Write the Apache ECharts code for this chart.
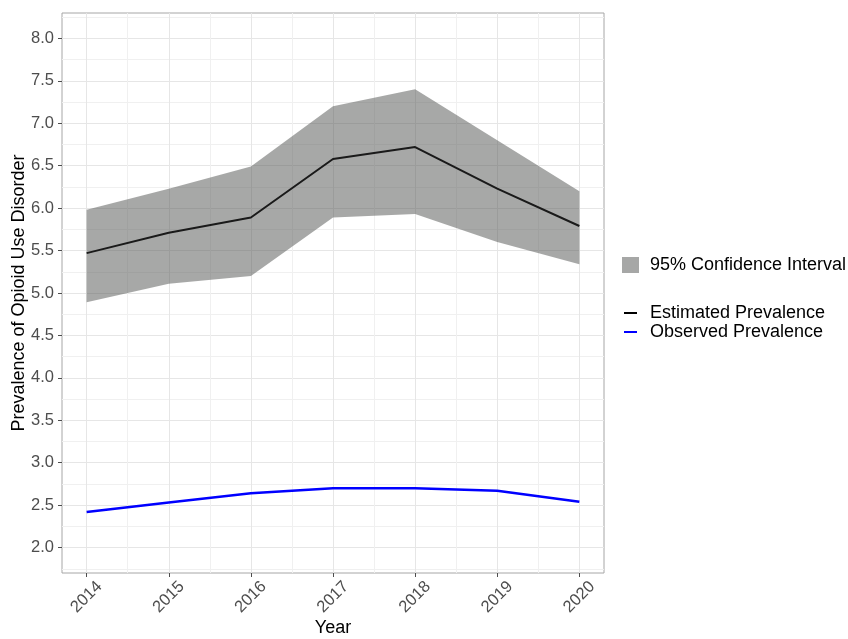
<!DOCTYPE html>
<html>
<head>
<meta charset="utf-8">
<script src="https://cdn.jsdelivr.net/npm/echarts@6/dist/echarts.min.js"></script>
<style>html,body{margin:0;padding:0;background:#fff}#c{width:848px;height:639px}</style>
</head>
<body>
<div id="c"></div>
<script>
const years = [2014, 2015, 2016, 2017, 2018, 2019, 2020];
const estimated = [5.47, 5.71, 5.89, 6.58, 6.72, 6.23, 5.79];
const ciUpper = [5.98, 6.23, 6.49, 7.20, 7.40, 6.80, 6.20];
const ciLower = [4.89, 5.11, 5.20, 5.89, 5.93, 5.60, 5.34];
const observed = [2.42, 2.53, 2.64, 2.70, 2.70, 2.67, 2.54];
const xMajorTicks = [2014, 2015, 2016, 2017, 2018, 2019, 2020];
const xMinorTicks = [2014.5, 2015.5, 2016.5, 2017.5, 2018.5, 2019.5];
const yMajorTicks = [2.0, 2.5, 3.0, 3.5, 4.0, 4.5, 5.0, 5.5, 6.0, 6.5, 7.0, 7.5, 8.0];
const yMinorTicks = [1.75, 2.25, 2.75, 3.25, 3.75, 4.25, 4.75, 5.25, 5.75, 6.25, 6.75, 7.25, 7.75, 8.25];

const FONT = '"Liberation Sans", Arial, Helvetica, sans-serif';
const chart = echarts.init(document.getElementById('c'), null, {renderer: 'canvas'});

const bandFill = 'rgba(80,82,80,0.5)';

chart.setOption({
  animation: false,
  textStyle: {fontFamily: FONT},
  grid: {left: 62, top: 13, right: 244, bottom: 66, show: true, borderColor: '#a6a6a6', borderWidth: 1, backgroundColor: 'transparent', outerBoundsMode: 'none'},
  legend: [
    {
      left: 617, top: 251, orient: 'vertical', selectedMode: false,
      icon: 'rect', itemWidth: 17, itemHeight: 16,
      textStyle: {fontFamily: FONT, fontSize: 18, color: '#000', padding: [0, 0, 0, 6]},
      data: [{name: '95% Confidence Interval', itemStyle: {color: '#a6a7a6'}}]
    },
    {
      left: 619, top: 299, orient: 'vertical', selectedMode: false,
      icon: 'rect', itemWidth: 13, itemHeight: 2, itemGap: 1,
      textStyle: {fontFamily: FONT, fontSize: 18, color: '#000', padding: [0, 0, 0, 8]},
      data: [
        {name: 'Estimated Prevalence', itemStyle: {color: '#000'}},
        {name: 'Observed Prevalence', itemStyle: {color: '#0000ff'}}
      ]
    }
  ],
  xAxis: [
    {
      type: 'value', min: 2013.7, max: 2020.3,
      name: 'Year', nameLocation: 'middle', nameGap: 46, nameMoveOverlap: false,
      nameTextStyle: {fontFamily: FONT, fontSize: 18, color: '#000', verticalAlign: 'top'},
      axisLine: {show: false},
      axisTick: {show: true, length: 4, lineStyle: {color: '#4d4d4d'}, customValues: xMajorTicks},
      axisLabel: {customValues: xMajorTicks, rotate: 45, align: 'center', verticalAlign: 'middle', margin: 24,
        fontFamily: FONT, fontSize: 16.5, color: '#4d4d4d', formatter: v => String(v)},
      splitLine: {show: true, lineStyle: {color: '#e6e6e6', width: 1}}
    },
    {
      type: 'value', min: 2013.7, max: 2020.3, gridIndex: 0, position: 'bottom',
      axisLine: {show: false}, axisLabel: {show: false, customValues: xMinorTicks},
      axisTick: {show: false, customValues: xMinorTicks},
      splitLine: {show: true, lineStyle: {color: '#f0f0f0', width: 1}}
    }
  ],
  yAxis: [
    {
      type: 'value', min: 1.7, max: 8.3,
      name: 'Prevalence of Opioid Use Disorder', nameLocation: 'middle', nameGap: 34, nameMoveOverlap: false,
      nameTextStyle: {fontFamily: FONT, fontSize: 18, color: '#000'},
      axisLine: {show: false},
      axisTick: {show: true, length: 4, lineStyle: {color: '#4d4d4d'}, customValues: yMajorTicks},
      axisLabel: {customValues: yMajorTicks, margin: 8, fontFamily: FONT, fontSize: 16.5, color: '#4d4d4d',
        formatter: v => Number(v).toFixed(1)},
      splitLine: {show: true, lineStyle: {color: '#e6e6e6', width: 1}}
    },
    {
      type: 'value', min: 1.7, max: 8.3, gridIndex: 0, position: 'left',
      axisLine: {show: false}, axisLabel: {show: false, customValues: yMinorTicks},
      axisTick: {show: false, customValues: yMinorTicks},
      splitLine: {show: true, lineStyle: {color: '#f0f0f0', width: 1}}
    }
  ],
  series: [
    {
      name: '95% Confidence Interval', type: 'custom', silent: true, color: '#a6a7a6',
      encode: {x: 0, y: [1, 2]},
      data: years.map((y, i) => [y, ciLower[i], ciUpper[i]]),
      renderItem: function (params, api) {
        if (params.dataIndex !== 0) return null;
        const pts = [];
        for (let i = 0; i < years.length; i++) pts.push(api.coord([years[i], ciUpper[i]]));
        for (let i = years.length - 1; i >= 0; i--) pts.push(api.coord([years[i], ciLower[i]]));
        return {type: 'polygon', shape: {points: pts}, style: {fill: bandFill, stroke: null}};
      }
    },
    {
      name: 'Estimated Prevalence', type: 'line', symbol: 'none', color: '#000',
      lineStyle: {color: '#1a1a1a', width: 2},
      data: years.map((y, i) => [y, estimated[i]])
    },
    {
      name: 'Observed Prevalence', type: 'line', symbol: 'none', color: '#0000ff',
      lineStyle: {color: '#0000ff', width: 2.5},
      data: years.map((y, i) => [y, observed[i]])
    }
  ]
});
</script>
</body>
</html>
